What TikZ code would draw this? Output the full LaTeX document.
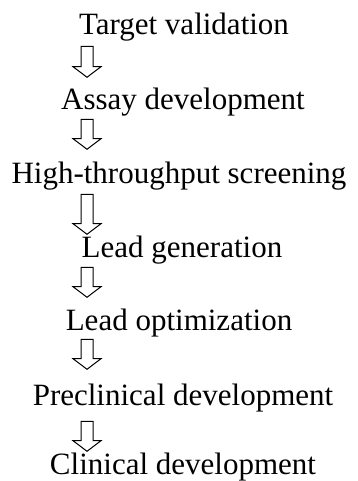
\documentclass[tikz,border=0pt]{standalone}
\usepackage{fontspec}
\setmainfont{Liberation Serif}
\usetikzlibrary{shapes.arrows}

\begin{document}
\begin{tikzpicture}[x=1pt, y=-1pt,
      stage/.style={anchor=base, inner sep=0pt, font=\fontsize{31}{36}\selectfont},
      flow/.style={draw, line width=1pt, single arrow, shape border rotate=270, inner sep=5.5pt,
        single arrow head extend=8pt, single arrow tip angle=106, minimum height=#1}]
    \useasboundingbox (0,0) rectangle (358,481);
    \node[stage] (tv)  at (184,35)  {Target validation};
    \node[stage] (ad)  at (183,110) {Assay development};
    \node[stage] (hts) at (179,183) {High-throughput screening};
    \node[stage] (lg)  at (182,257) {Lead generation};
    \node[stage] (lo)  at (179,330) {Lead optimization};
    \node[stage] (pd)  at (183,405) {Preclinical development};
    \node[stage] (cd)  at (183,474) {Clinical development};
    % block arrows between the stages
    \node[flow=31pt] (a1) at (87,59.5) {};
    \node[flow=30pt] (a2) at (87,132)  {};
    \node[flow=40pt] (a3) at (87,212)  {};
    \node[flow=30pt] (a4) at (87,280)  {};
    \node[flow=30pt] (a5) at (87,352)  {};
    \node[flow=30pt] (a6) at (87,434)  {};
  \end{tikzpicture}
\end{document}
